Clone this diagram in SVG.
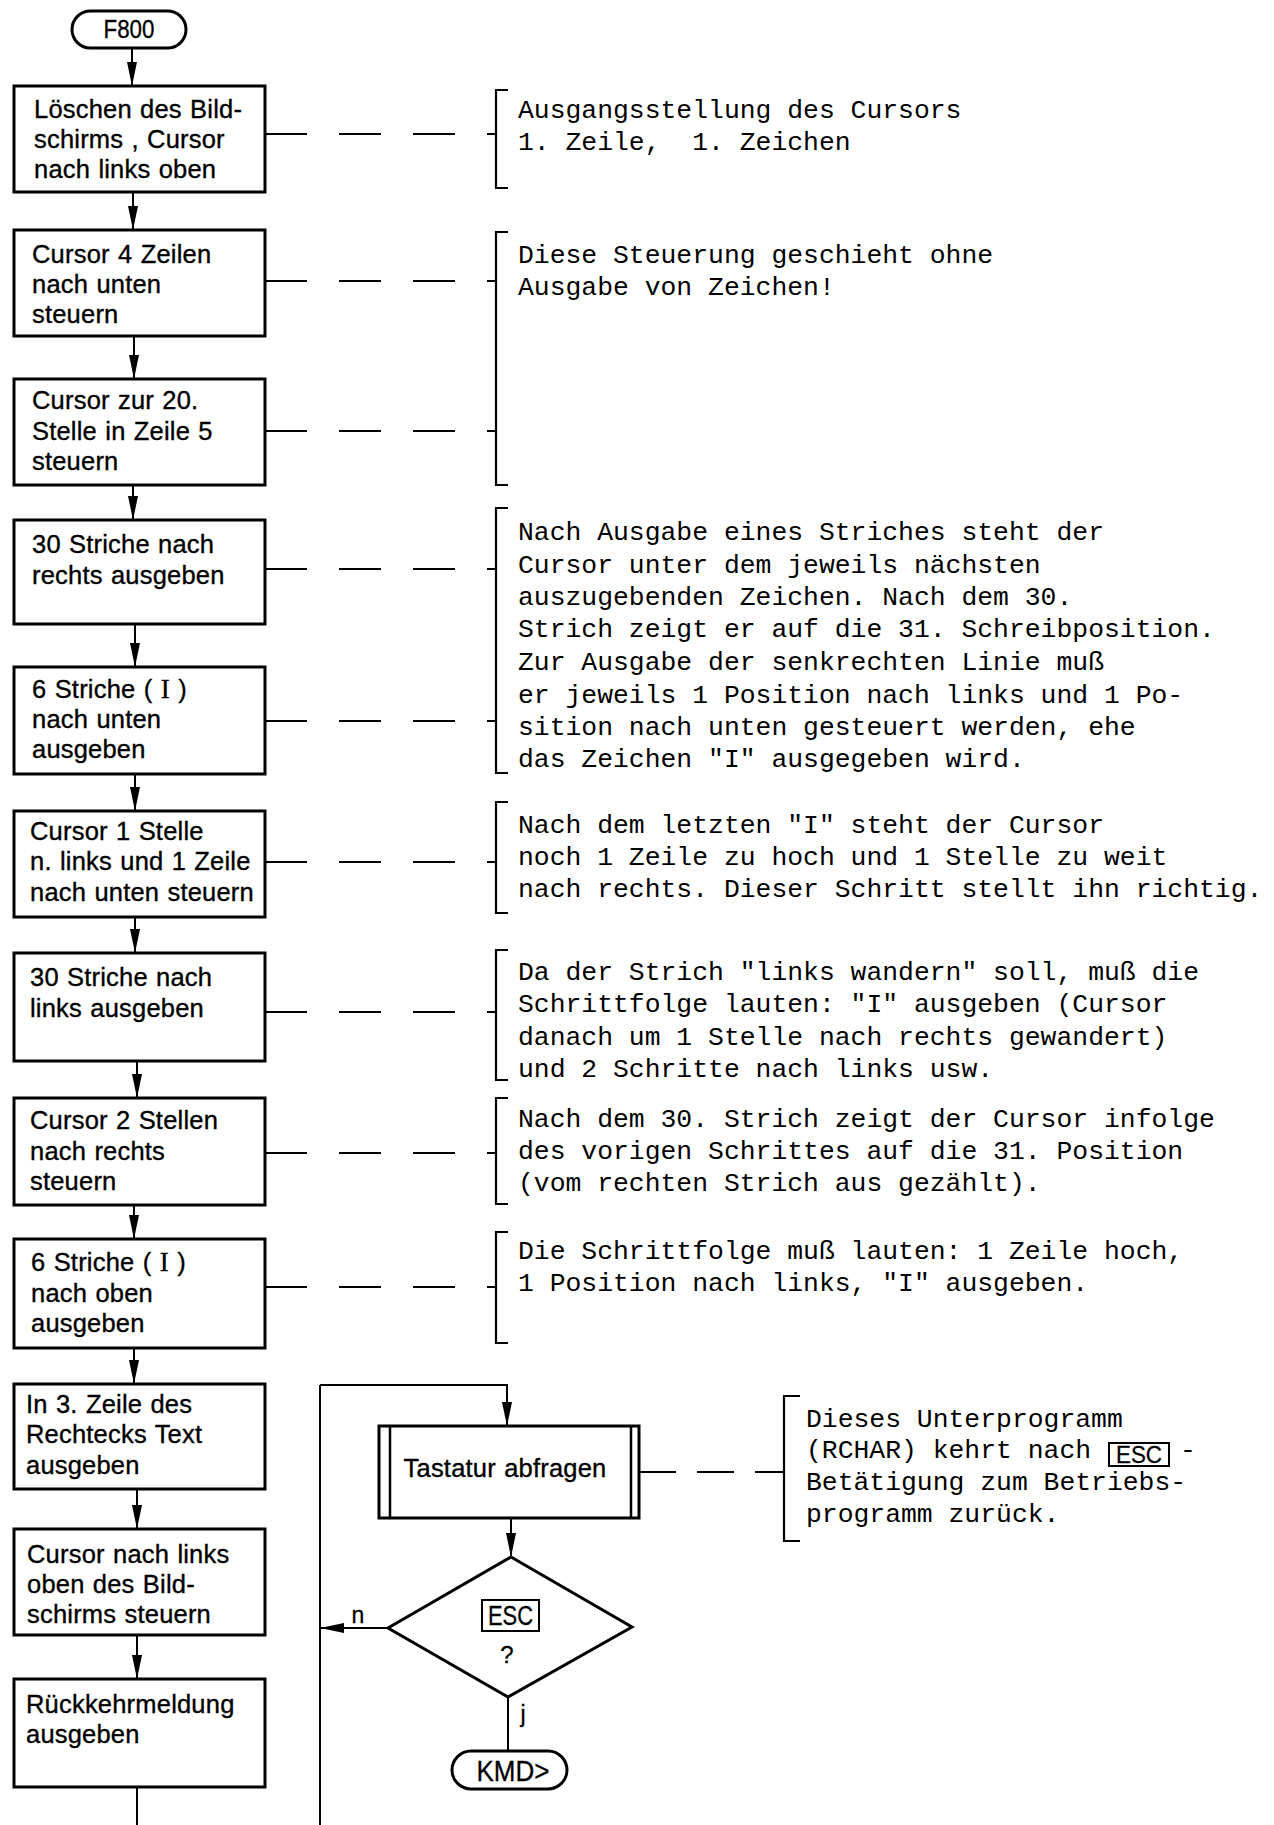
<svg xmlns="http://www.w3.org/2000/svg" width="1274" height="1825" viewBox="0 0 1274 1825">
<defs>
<marker id="arr" markerUnits="userSpaceOnUse" viewBox="0 0 24 10" markerWidth="24" markerHeight="10" refX="24" refY="5" orient="auto">
<path d="M0,0 L24,5 L0,10 Z" fill="#000"/>
</marker>
<style>
.box{fill:#fff;stroke:#000;stroke-width:3}
.thin{fill:none;stroke:#000;stroke-width:2.5}
.ln{fill:none;stroke:#000;stroke-width:2}
.dash{fill:none;stroke:#000;stroke-width:2;stroke-dasharray:42 32}
.dash2{fill:none;stroke:#000;stroke-width:2;stroke-dasharray:37 21}
.br{fill:none;stroke:#000;stroke-width:2.2}
.t{font-family:"Liberation Sans",Arial,sans-serif;font-size:25.5px;letter-spacing:0.2px;word-spacing:1px;fill:#000;stroke:#000;stroke-width:0.35}
.c{font-family:"Liberation Sans",Arial,sans-serif;fill:#000;text-anchor:middle;stroke:#000;stroke-width:0.3}
.m{font-family:"Liberation Mono","DejaVu Sans Mono",monospace;font-size:26.4px;fill:#000}
.si{font-family:"Liberation Serif",serif;font-size:27px}
</style>
</defs>
<rect width="1274" height="1825" fill="#fff"/>

<g id="connectors">
<line class="ln" x1="132" y1="48" x2="132" y2="86" marker-end="url(#arr)"/>
<line class="ln" x1="133" y1="192" x2="133" y2="230" marker-end="url(#arr)"/>
<line class="ln" x1="134" y1="336" x2="134" y2="379" marker-end="url(#arr)"/>
<line class="ln" x1="133" y1="485" x2="133" y2="520" marker-end="url(#arr)"/>
<line class="ln" x1="135" y1="624" x2="135" y2="667" marker-end="url(#arr)"/>
<line class="ln" x1="135" y1="774" x2="135" y2="811" marker-end="url(#arr)"/>
<line class="ln" x1="135" y1="917" x2="135" y2="953" marker-end="url(#arr)"/>
<line class="ln" x1="137" y1="1061" x2="137" y2="1098" marker-end="url(#arr)"/>
<line class="ln" x1="134" y1="1205" x2="134" y2="1239" marker-end="url(#arr)"/>
<line class="ln" x1="134" y1="1348" x2="134" y2="1384" marker-end="url(#arr)"/>
<line class="ln" x1="137" y1="1489" x2="137" y2="1529" marker-end="url(#arr)"/>
<line class="ln" x1="137" y1="1635" x2="137" y2="1679" marker-end="url(#arr)"/>
<line class="ln" x1="137" y1="1787" x2="137" y2="1825"/>
<line class="ln" x1="320" y1="1825" x2="320" y2="1385"/>
<polyline class="ln" points="320,1385 507,1385 507,1426" marker-end="url(#arr)"/>
<line class="ln" x1="511" y1="1518" x2="511" y2="1557" marker-end="url(#arr)"/>
<line class="ln" x1="388" y1="1628" x2="320" y2="1628" marker-end="url(#arr)"/>
<line class="ln" x1="508" y1="1697" x2="508" y2="1751"/>
<text class="c" x="358" y="1623" font-size="23">n</text>
<text class="c" x="523" y="1722" font-size="23">j</text>
<line class="dash" x1="265" y1="134" x2="496" y2="134"/>
<line class="dash" x1="265" y1="281" x2="496" y2="281"/>
<line class="dash" x1="265" y1="431" x2="496" y2="431"/>
<line class="dash" x1="265" y1="569" x2="496" y2="569"/>
<line class="dash" x1="265" y1="721" x2="496" y2="721"/>
<line class="dash" x1="265" y1="862" x2="496" y2="862"/>
<line class="dash" x1="265" y1="1012" x2="496" y2="1012"/>
<line class="dash" x1="265" y1="1153" x2="496" y2="1153"/>
<line class="dash" x1="265" y1="1287" x2="496" y2="1287"/>
<line class="dash2" x1="639" y1="1472" x2="784" y2="1472"/>
</g>

<g id="start">
<rect class="box" x="72" y="11" width="114" height="37" rx="18.5"/>
<text class="c" x="129" y="38" font-size="25" textLength="51" lengthAdjust="spacingAndGlyphs">F800</text>
</g>

<g id="n1">
<rect class="box" x="14" y="86" width="251" height="106"/>
<text class="t" x="34" y="118">Löschen des Bild-</text>
<text class="t" x="34" y="148">schirms , Cursor</text>
<text class="t" x="34" y="178">nach links oben</text>
</g>
<g id="n2">
<rect class="box" x="14" y="230" width="251" height="106"/>
<text class="t" x="32" y="263">Cursor 4 Zeilen</text>
<text class="t" x="32" y="293">nach unten</text>
<text class="t" x="32" y="323">steuern</text>
</g>
<g id="n3">
<rect class="box" x="14" y="379" width="251" height="106"/>
<text class="t" x="32" y="409">Cursor zur 20.</text>
<text class="t" x="32" y="440">Stelle in Zeile 5</text>
<text class="t" x="32" y="470">steuern</text>
</g>
<g id="n4">
<rect class="box" x="14" y="520" width="251" height="104"/>
<text class="t" x="32" y="553">30 Striche nach</text>
<text class="t" x="32" y="584">rechts ausgeben</text>
</g>
<g id="n5">
<rect class="box" x="14" y="667" width="251" height="107"/>
<text class="t" x="32" y="698">6 Striche ( <tspan class="si">I</tspan> )</text>
<text class="t" x="32" y="728">nach unten</text>
<text class="t" x="32" y="758">ausgeben</text>
</g>
<g id="n6">
<rect class="box" x="14" y="811" width="251" height="106"/>
<text class="t" x="30" y="840">Cursor 1 Stelle</text>
<text class="t" x="30" y="870">n. links und 1 Zeile</text>
<text class="t" x="30" y="901">nach unten steuern</text>
</g>
<g id="n7">
<rect class="box" x="14" y="953" width="251" height="108"/>
<text class="t" x="30" y="986">30 Striche nach</text>
<text class="t" x="30" y="1017">links ausgeben</text>
</g>
<g id="n8">
<rect class="box" x="14" y="1098" width="251" height="107"/>
<text class="t" x="30" y="1129">Cursor 2 Stellen</text>
<text class="t" x="30" y="1160">nach rechts</text>
<text class="t" x="30" y="1190">steuern</text>
</g>
<g id="n9">
<rect class="box" x="14" y="1239" width="251" height="109"/>
<text class="t" x="31" y="1271">6 Striche ( <tspan class="si">I</tspan> )</text>
<text class="t" x="31" y="1302">nach oben</text>
<text class="t" x="31" y="1332">ausgeben</text>
</g>
<g id="n10">
<rect class="box" x="14" y="1384" width="251" height="105"/>
<text class="t" x="26" y="1413">In 3. Zeile des</text>
<text class="t" x="26" y="1443">Rechtecks Text</text>
<text class="t" x="26" y="1474">ausgeben</text>
</g>
<g id="n11">
<rect class="box" x="14" y="1529" width="251" height="106"/>
<text class="t" x="27" y="1563">Cursor nach links</text>
<text class="t" x="27" y="1593">oben des Bild-</text>
<text class="t" x="27" y="1623">schirms steuern</text>
</g>
<g id="n12">
<rect class="box" x="14" y="1679" width="251" height="108"/>
<text class="t" x="26" y="1713">Rückkehrmeldung</text>
<text class="t" x="26" y="1743">ausgeben</text>
</g>

<g id="tastatur">
<rect class="box" x="379" y="1426" width="260" height="92"/>
<line class="thin" x1="390" y1="1426" x2="390" y2="1518"/>
<line class="thin" x1="631" y1="1426" x2="631" y2="1518"/>
<text class="t" x="505" y="1477" text-anchor="middle">Tastatur abfragen</text>
</g>

<g id="decision">
<polygon class="box" points="511,1557 632,1627 508,1697 388,1628"/>
<rect x="482" y="1600" width="57" height="31" fill="none" stroke="#000" stroke-width="2"/>
<text class="c" x="510.5" y="1625" font-size="27" textLength="45" lengthAdjust="spacingAndGlyphs">ESC</text>
<text class="c" x="507" y="1663" font-size="24">?</text>
</g>

<g id="kmd">
<rect class="box" x="452" y="1751" width="115" height="38" rx="19"/>
<text class="c" x="513" y="1781" font-size="29" textLength="73" lengthAdjust="spacingAndGlyphs">KMD&gt;</text>
</g>

<g id="note1">
<path class="br" d="M508,90 H496 V188 H508"/>
<text class="m" x="518" y="118">Ausgangsstellung des Cursors</text>
<text class="m" x="518" y="150" xml:space="preserve">1. Zeile,  1. Zeichen</text>
</g>
<g id="note2">
<path class="br" d="M508,232 H496 V485 H508"/>
<text class="m" x="518" y="263">Diese Steuerung geschieht ohne</text>
<text class="m" x="518" y="295">Ausgabe von Zeichen!</text>
</g>
<g id="note3">
<path class="br" d="M508,508 H496 V773 H508"/>
<text class="m" x="518" y="540">Nach Ausgabe eines Striches steht der</text>
<text class="m" x="518" y="573">Cursor unter dem jeweils nächsten</text>
<text class="m" x="518" y="605">auszugebenden Zeichen. Nach dem 30.</text>
<text class="m" x="518" y="637">Strich zeigt er auf die 31. Schreibposition.</text>
<text class="m" x="518" y="670">Zur Ausgabe der senkrechten Linie muß</text>
<text class="m" x="518" y="703">er jeweils 1 Position nach links und 1 Po-</text>
<text class="m" x="518" y="735">sition nach unten gesteuert werden, ehe</text>
<text class="m" x="518" y="767">das Zeichen "I" ausgegeben wird.</text>
</g>
<g id="note4">
<path class="br" d="M508,802 H496 V913 H508"/>
<text class="m" x="518" y="833">Nach dem letzten "I" steht der Cursor</text>
<text class="m" x="518" y="865">noch 1 Zeile zu hoch und 1 Stelle zu weit</text>
<text class="m" x="518" y="897">nach rechts. Dieser Schritt stellt ihn richtig.</text>
</g>
<g id="note5">
<path class="br" d="M508,950 H496 V1080 H508"/>
<text class="m" x="518" y="980">Da der Strich "links wandern" soll, muß die</text>
<text class="m" x="518" y="1012">Schrittfolge lauten: "I" ausgeben (Cursor</text>
<text class="m" x="518" y="1045">danach um 1 Stelle nach rechts gewandert)</text>
<text class="m" x="518" y="1077">und 2 Schritte nach links usw.</text>
</g>
<g id="note6">
<path class="br" d="M508,1098 H496 V1204 H508"/>
<text class="m" x="518" y="1127">Nach dem 30. Strich zeigt der Cursor infolge</text>
<text class="m" x="518" y="1159">des vorigen Schrittes auf die 31. Position</text>
<text class="m" x="518" y="1191">(vom rechten Strich aus gezählt).</text>
</g>
<g id="note7">
<path class="br" d="M508,1232 H496 V1343 H508"/>
<text class="m" x="518" y="1259">Die Schrittfolge muß lauten: 1 Zeile hoch,</text>
<text class="m" x="518" y="1291">1 Position nach links, "I" ausgeben.</text>
</g>
<g id="note8">
<path class="br" d="M800,1396 H784 V1541 H800"/>
<text class="m" x="806" y="1427">Dieses Unterprogramm</text>
<text class="m" x="806" y="1458">(RCHAR) kehrt nach</text>
<rect x="1109" y="1443" width="60" height="23" fill="none" stroke="#000" stroke-width="2"/>
<text class="c" x="1139" y="1463" font-size="24" textLength="46" lengthAdjust="spacingAndGlyphs">ESC</text>
<text class="m" x="1180" y="1458">-</text>
<text class="m" x="806" y="1490">Betätigung zum Betriebs-</text>
<text class="m" x="806" y="1522">programm zurück.</text>
</g>
</svg>
